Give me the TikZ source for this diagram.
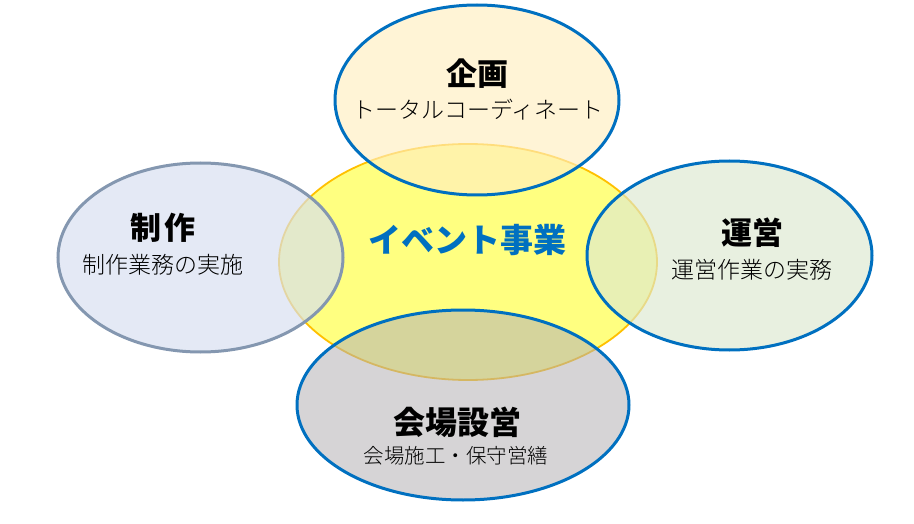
\documentclass[tikz,border=0pt]{standalone}
\usepackage{fontspec}
\newfontfamily\gothic{Noto Sans CJK JP}
\newfontfamily\thingothic{Noto Sans CJK JP Light}
\usetikzlibrary{shapes.geometric}
\definecolor{bordblue}{RGB}{0,112,192}
\definecolor{bordgray}{RGB}{132,151,176}
\definecolor{bordgold}{RGB}{255,192,0}
\definecolor{yellowfill}{RGB}{255,255,128}
\definecolor{topfill}{RGB}{255,238,192}
\definecolor{leftfill}{RGB}{215,223,240}
\definecolor{rightfill}{RGB}{220,232,208}
\definecolor{botfill}{RGB}{180,177,180}
\definecolor{centertext}{RGB}{0,112,192}
\tikzset{
  oval/.style={ellipse, inner sep=0pt, outer sep=0pt},
  titletext/.style={font=\gothic\bfseries\fontsize{31}{33}\selectfont, text=black, inner sep=0pt},
  subtext/.style={font=\thingothic\fontsize{23}{25}\selectfont, text=black, inner sep=0pt},
}
\begin{document}
\begin{tikzpicture}[x=1pt,y=-1pt]
\useasboundingbox (0,0) rectangle (914,524);
% central ellipse
\node[oval, draw=bordgold, line width=1.8pt, fill=yellowfill,
      minimum width=378pt, minimum height=236pt] (event) at (468,262) {};
% surrounding ellipses (translucent fill)
\node[oval, fill=topfill, fill opacity=0.65, draw=bordblue, draw opacity=1, line width=3pt,
      minimum width=284pt, minimum height=190pt] (kikaku) at (477,100) {};
\node[oval, fill=leftfill, fill opacity=0.68, draw=bordgray, draw opacity=1, line width=3pt,
      minimum width=285pt, minimum height=189pt] (seisaku) at (200.5,257.5) {};
\node[oval, fill=rightfill, fill opacity=0.65, draw=bordblue, draw opacity=1, line width=3pt,
      minimum width=285pt, minimum height=189pt] (unei) at (729.5,255.5) {};
\node[oval, fill=botfill, fill opacity=0.55, draw=bordblue, draw opacity=1, line width=3pt,
      minimum width=332pt, minimum height=190pt] (kaijo) at (463,405) {};
% texts
\node[font=\gothic\bfseries\fontsize{33}{35}\selectfont, text=centertext, inner sep=0pt] (eventlabel) at (467,240) {イベント事業};
\node[titletext] (kikakut) at (477,74) {企画};
\node[subtext] (kikakus) at (478,110) {トータルコーディネート};
\node[titletext] (seisakut) at (163,228) {制\hspace{4pt}作};
\node[subtext] (seisakus) at (163,265) {制作業務の実施};
\node[titletext] (uneit) at (752,233) {運営};
\node[subtext] (uneis) at (752,270) {運営作業の実務};
\node[titletext, font=\gothic\bfseries\fontsize{32}{34}\selectfont] (kaijot) at (457,422) {会場設営};
\node[subtext, font=\thingothic\fontsize{20.5}{22}\selectfont] (kaijos) at (456,456) {会場施工・保守営繕};
\end{tikzpicture}
\end{document}
